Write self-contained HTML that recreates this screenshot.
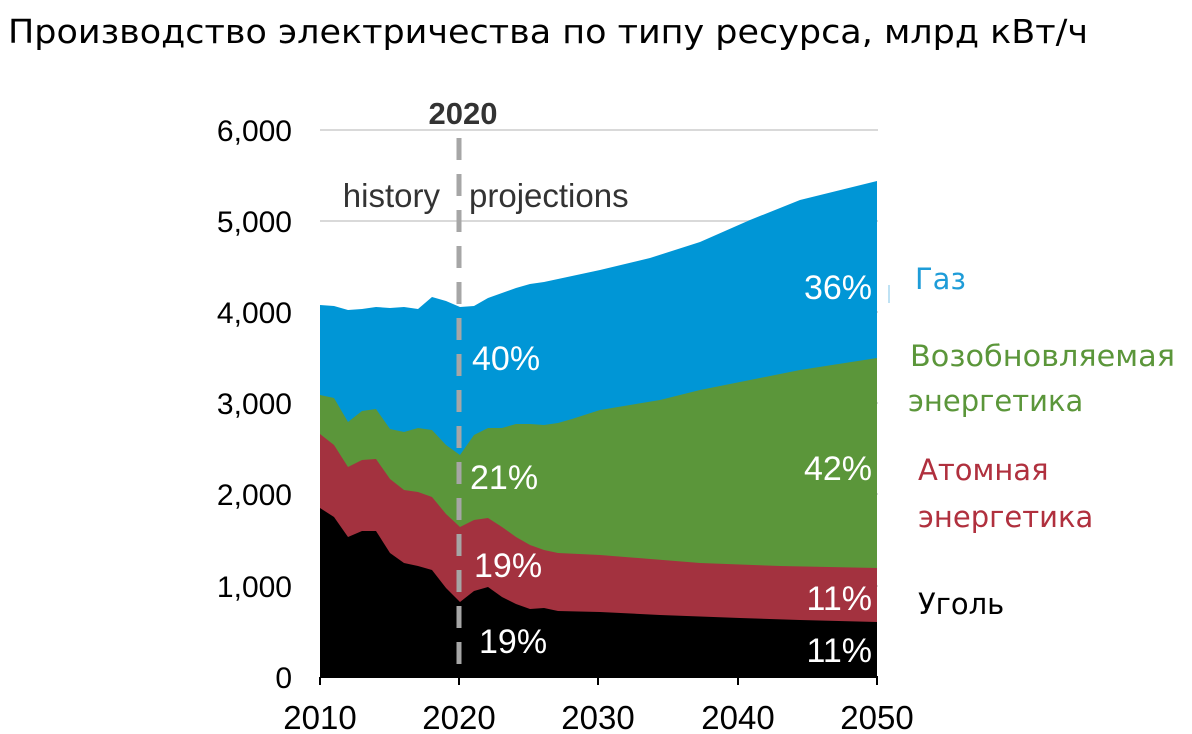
<!DOCTYPE html>
<html><head><meta charset="utf-8"><style>
body{margin:0;background:#fff;width:1192px;height:734px;overflow:hidden}
svg{display:block}
</style></head><body>
<svg width="1192" height="734" xmlns="http://www.w3.org/2000/svg" font-family="Liberation Sans, sans-serif">
<text x="8" y="43" font-size="33" fill="#000" font-family="DejaVu Sans, sans-serif" textLength="1080" lengthAdjust="spacingAndGlyphs">Производство электричества по типу ресурса, млрд кВт/ч</text>
<g stroke="#d9d9d9" stroke-width="2">
<line x1="320" y1="130" x2="878" y2="130"/><line x1="320" y1="221" x2="878" y2="221"/>
<line x1="320" y1="312" x2="878" y2="312"/><line x1="320" y1="403" x2="878" y2="403"/>
<line x1="320" y1="494" x2="878" y2="494"/><line x1="320" y1="586" x2="878" y2="586"/>
</g>
<path fill="#0096d6" d="M320,305 L334,306 L348,310 L362,309 L376,307 L390,308 L404,307 L418,309 L432,297 L446,301 L460,307 L474,306 L488,298 L502,293 L516,288 L530,284 L544,282 L600,270 L650,258 L700,242 L750,220 L800,200 L877,181 L877,677 L320,677 Z"/>
<path fill="#5b963a" d="M320,395 L334,398 L348,422 L362,411 L376,409 L390,429 L404,432 L418,428 L432,430 L446,445 L460,455 L474,435 L488,428 L502,428 L516,424 L530,424 L544,425 L558,423 L572,419 L600,410 L660,400 L700,390 L750,380 L800,370 L877,358 L877,677 L320,677 Z"/>
<path fill="#a3323f" d="M320,434 L334,445 L348,467 L362,460 L376,459 L390,479 L404,490 L418,492 L432,497 L446,514 L460,527 L474,520 L488,518 L502,527 L516,537 L530,545 L544,550 L558,553 L600,555 L700,563 L780,566 L877,568 L877,677 L320,677 Z"/>
<path fill="#000" d="M320,508 L334,517 L348,537 L362,531 L376,531 L390,553 L404,563 L418,566 L432,570 L446,588 L460,602 L474,591 L488,587 L502,597 L516,604 L530,609 L544,608 L558,611 L600,612 L660,615 L740,618 L800,620 L877,622 L877,677 L320,677 Z"/>
<line x1="320" y1="677" x2="878" y2="677" stroke="#000" stroke-width="2"/>
<g stroke="#000" stroke-width="2"><line x1="320" y1="677" x2="320" y2="685"/><line x1="459" y1="677" x2="459" y2="685"/><line x1="598" y1="677" x2="598" y2="685"/><line x1="738" y1="677" x2="738" y2="685"/><line x1="877" y1="677" x2="877" y2="685"/></g>
<line x1="459" y1="138" x2="459" y2="677" stroke="#a6a6a6" stroke-width="5" stroke-dasharray="22,14"/>
<text x="463" y="124" font-size="31" font-weight="bold" text-anchor="middle" fill="#333">2020</text>
<text x="440" y="207" font-size="33" text-anchor="end" fill="#333">history</text>
<text x="469" y="207" font-size="33" fill="#333">projections</text>
<g font-size="30" text-anchor="end" fill="#000">
<text x="292" y="141">6,000</text><text x="292" y="232">5,000</text><text x="292" y="323">4,000</text>
<text x="292" y="414">3,000</text><text x="292" y="505">2,000</text><text x="292" y="597">1,000</text><text x="292" y="688">0</text>
</g>
<g font-size="33" text-anchor="middle" fill="#000">
<text x="320" y="729">2010</text><text x="459" y="729">2020</text><text x="598" y="729">2030</text><text x="738" y="729">2040</text><text x="877" y="729">2050</text>
</g>
<g font-size="34" fill="#fff">
<text x="472" y="370">40%</text><text x="470" y="489">21%</text><text x="474" y="577">19%</text><text x="479" y="653">19%</text>
<text x="872" y="299" text-anchor="end">36%</text><text x="872" y="480" text-anchor="end">42%</text>
<text x="872" y="610" text-anchor="end">11%</text><text x="872" y="662" text-anchor="end">11%</text>
</g>
<line x1="889" y1="285" x2="889" y2="303" stroke="#7fc6e8" stroke-width="1"/>
<g font-size="29" font-family="DejaVu Sans, sans-serif">
<text x="915" y="289" fill="#1e9cd8">Газ</text>
<text x="910" y="366" fill="#5b963a" textLength="265" lengthAdjust="spacingAndGlyphs">Возобновляемая</text>
<text x="908" y="411" fill="#5b963a">энергетика</text>
<text x="918" y="480" fill="#b0303e">Атомная</text>
<text x="918" y="527" fill="#b0303e">энергетика</text>
<text x="918" y="614" fill="#000">Уголь</text>
</g>
</svg>
</body></html>
